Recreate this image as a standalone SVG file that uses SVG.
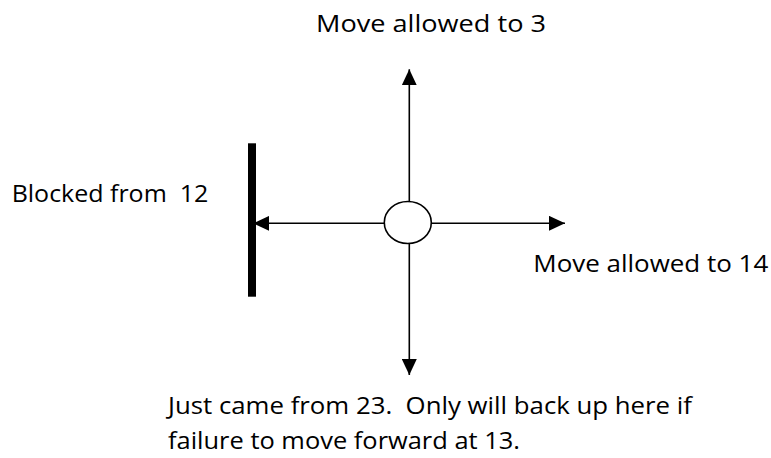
<svg xmlns="http://www.w3.org/2000/svg" width="771" height="458" viewBox="0 0 771 458">
<style>
.lbl{font-family:"Open Sans","Noto Sans","DejaVu Sans",sans-serif;font-size:23px;fill:#000;white-space:pre}
.conn{stroke:#000;stroke-width:1.6;fill:none}
</style>
<defs>
<marker id="ah" markerUnits="userSpaceOnUse" markerWidth="16" markerHeight="15" refX="16" refY="7.5" orient="auto">
<path d="M0,0 L16,7.5 L0,15 z" fill="#000"/>
</marker>
</defs>
<rect width="771" height="458" fill="#fff"/>
<g id="connectors">
<line class="conn" x1="409.3" y1="201.5" x2="409.3" y2="69.3" marker-end="url(#ah)"/>
<line class="conn" x1="409.3" y1="243.5" x2="409.3" y2="375" marker-end="url(#ah)"/>
<line class="conn" x1="431" y1="223.3" x2="565" y2="223.3" marker-end="url(#ah)"/>
<line class="conn" x1="384" y1="223.3" x2="253.3" y2="223.3" marker-end="url(#ah)"/>
</g>
<g id="barrier">
<rect x="248" y="143.3" width="8" height="153.4" fill="#000"/>
</g>
<g id="position">
<ellipse cx="407.8" cy="222.5" rx="23.5" ry="21" fill="#fff" stroke="#000" stroke-width="1.6"/>
</g>
<g id="label-up">
<text class="lbl" x="316" y="31.7" textLength="230" lengthAdjust="spacingAndGlyphs">Move allowed to 3</text>
</g>
<g id="label-left">
<text class="lbl" x="11.7" y="201.7" textLength="196.6" lengthAdjust="spacingAndGlyphs" xml:space="preserve">Blocked from  12</text>
</g>
<g id="label-right">
<text class="lbl" x="533.3" y="271.7" textLength="235" lengthAdjust="spacingAndGlyphs">Move allowed to 14</text>
</g>
<g id="label-down">
<text class="lbl" x="168" y="414.3" textLength="524" lengthAdjust="spacingAndGlyphs" xml:space="preserve">Just came from 23.  Only will back up here if</text>
<text class="lbl" x="168" y="449" textLength="352" lengthAdjust="spacingAndGlyphs">failure to move forward at 13.</text>
</g>
</svg>
